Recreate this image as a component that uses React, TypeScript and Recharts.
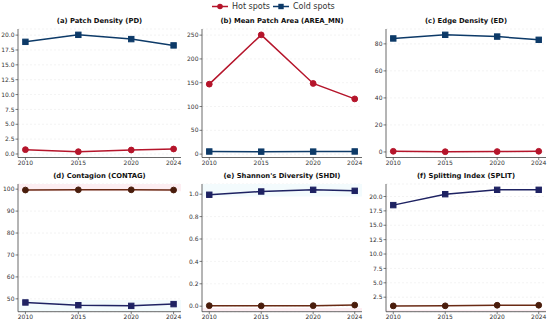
import React from "react";
import { LineChart, Line, XAxis, YAxis, CartesianGrid, ReferenceArea } from "recharts";

const years = [2010, 2015, 2020, 2024];

const pdHot = [0.73, 0.39, 0.67, 0.84];
const pdCold = [18.87, 20.05, 19.33, 18.27];
const areaHot = [147, 250.6, 148.5, 116];
const areaCold = [5.5, 5.2, 5.3, 5.6];
const edHot = [0.5, 0.2, 0.3, 0.5];
const edCold = [84, 86.7, 85.4, 83];
const contagHot = [99.6, 99.7, 99.7, 99.6];
const contagCold = [48.35, 47.1, 46.8, 47.6];
const shdiHot = [0.005, 0.003, 0.005, 0.01];
const shdiCold = [0.995, 1.024, 1.039, 1.03];
const splitHot = [0.99, 1.0, 1.1, 1.1];
const splitCold = [18.5, 20.4, 21.16, 21.16];

const pdTicks = [0, 2.5, 5, 7.5, 10, 12.5, 15, 17.5, 20];
const areaTicks = [0, 50, 100, 150, 200, 250];
const edTicks = [0, 20, 40, 60, 80];
const contagTicks = [50, 60, 70, 80, 90, 100];
const shdiTicks = [0, 0.2, 0.4, 0.6, 0.8, 1.0];
const splitTicks = [2.5, 5, 7.5, 10, 12.5, 15, 17.5, 20];

const titles = [
  "(a) Patch Density (PD)",
  "(b) Mean Patch Area (AREA_MN)",
  "(c) Edge Density (ED)",
  "(d) Contagion (CONTAG)",
  "(e) Shannon's Diversity (SHDI)",
  "(f) Splitting Index (SPLIT)",
];

const legendLabels = ["Hot spots", "Cold spots"];

const FONT = "'DejaVu Sans', sans-serif";

const TOP_HOT = "#b5152b";
const TOP_COLD = "#0d3a68";
const BOT_HOT = "#6a2a14";
const BOT_HOT_DOT = "#4a1d0c";
const BOT_COLD = "#1e2262";

type PanelProps = {
  plotLeft: number;
  plotTop: number;
  plotW: number;
  plotH: number;
  title: string;
  hot: number[];
  cold: number[];
  domain: [number, number];
  ticks: number[];
  fmt: (v: number) => string;
  hotColor: string;
  hotDot: string;
  coldColor: string;
  bands?: { y1: number; y2: number; fill: string }[];
};

const SquareDot = (color: string) => (props: any) => {
  const { cx, cy, index } = props;
  if (cx == null || cy == null) return <g key={"s" + index} />;
  return <rect key={"s" + index} x={cx - 2.7} y={cy - 2.7} width={5.4} height={5.4} fill={color} stroke={color} />;
};

const CircleDot = (color: string) => (props: any) => {
  const { cx, cy, index } = props;
  if (cx == null || cy == null) return <g key={"c" + index} />;
  return <circle key={"c" + index} cx={cx} cy={cy} r={2.9} fill={color} stroke={color} />;
};

function Panel(p: PanelProps) {
  const YW = 40;
  const MT = 6;
  const XH = 14;
  const MR = 6;
  const data = years.map((y, i) => ({ year: y, hot: p.hot[i], cold: p.cold[i] }));
  const tickStyle = { fontSize: 6, fill: "#333", fontFamily: FONT };
  return (
    <>
      <div
        style={{
          position: "absolute",
          left: p.plotLeft,
          width: p.plotW,
          top: p.plotTop - 12,
          textAlign: "center",
          fontFamily: FONT,
          fontWeight: "bold",
          fontSize: 6.8,
          color: "#111",
          lineHeight: "8px",
          whiteSpace: "nowrap",
        }}
      >
        {p.title}
      </div>
      <div style={{ position: "absolute", left: p.plotLeft - YW, top: p.plotTop - MT }}>
        <LineChart
          width={p.plotW + YW + MR}
          height={p.plotH + MT + XH}
          data={data}
          margin={{ top: MT, right: MR, left: 0, bottom: 0 }}
        >
          {(p.bands || []).map((b, i) => (
            <ReferenceArea key={i} y1={b.y1} y2={b.y2} fill={b.fill} fillOpacity={1} stroke="none" ifOverflow="hidden" />
          ))}
          <CartesianGrid vertical={false} stroke="#ebebeb" strokeDasharray="2 2" strokeWidth={0.6} />
          <XAxis
            dataKey="year"
            type="number"
            domain={[2009.3, 2024.7]}
            ticks={years}
            height={XH}
            tick={tickStyle}
            tickSize={2.5}
            tickMargin={1}
            axisLine={{ stroke: "#444", strokeWidth: 0.8 }}
            tickLine={{ stroke: "#444", strokeWidth: 0.7 }}
            allowDataOverflow
            interval={0}
          />
          <YAxis
            type="number"
            domain={p.domain}
            ticks={p.ticks}
            width={YW}
            tick={tickStyle}
            tickSize={2.5}
            tickMargin={1}
            tickFormatter={p.fmt}
            axisLine={{ stroke: "#444", strokeWidth: 0.8 }}
            tickLine={{ stroke: "#444", strokeWidth: 0.7 }}
            allowDataOverflow
            interval={0}
          />
          <Line
            dataKey="hot"
            stroke={p.hotColor}
            strokeWidth={1.5}
            dot={CircleDot(p.hotDot)}
            isAnimationActive={false}
          />
          <Line
            dataKey="cold"
            stroke={p.coldColor}
            strokeWidth={1.5}
            dot={SquareDot(p.coldColor)}
            isAnimationActive={false}
          />
        </LineChart>
      </div>
    </>
  );
}

const f1 = (v: number) => v.toFixed(1);
const f0 = (v: number) => v.toFixed(0);

export default function App() {
  const colL = [18, 202, 386];
  const colW = [163, 160, 160];
  const rowT = [29, 183.7];
  const rowH = [128.5, 127.7];
  return (
    <div style={{ position: "absolute", left: 0, top: 0, width: 550, height: 322, background: "#fff", overflow: "hidden" }}>
      <svg style={{ position: "absolute", left: 0, top: 0 }} width={550} height={14}>
        <line x1={212} x2={228} y1={6.5} y2={6.5} stroke={TOP_HOT} strokeWidth={1.5} />
        <circle cx={220} cy={6.5} r={2.8} fill={TOP_HOT} />
        <text x={232} y={9.3} fontSize={8} fontFamily={FONT} fill="#333">{legendLabels[0]}</text>
        <line x1={273} x2={289} y1={6.5} y2={6.5} stroke={TOP_COLD} strokeWidth={1.5} />
        <rect x={278.3} y={3.8} width={5.4} height={5.4} fill={TOP_COLD} />
        <text x={293} y={9.3} fontSize={8} fontFamily={FONT} fill="#333">{legendLabels[1]}</text>
      </svg>
      <Panel plotLeft={colL[0]} plotTop={rowT[0]} plotW={colW[0]} plotH={rowH[0]} title={titles[0]}
        hot={pdHot} cold={pdCold} domain={[-0.59, 21.03]} ticks={pdTicks} fmt={f1}
        hotColor={TOP_HOT} hotDot={TOP_HOT} coldColor={TOP_COLD} />
      <Panel plotLeft={colL[1]} plotTop={rowT[0]} plotW={colW[1]} plotH={rowH[0]} title={titles[1]}
        hot={areaHot} cold={areaCold} domain={[-7.1, 262.9]} ticks={areaTicks} fmt={f0}
        hotColor={TOP_HOT} hotDot={TOP_HOT} coldColor={TOP_COLD} />
      <Panel plotLeft={colL[2]} plotTop={rowT[0]} plotW={colW[2]} plotH={rowH[0]} title={titles[2]}
        hot={edHot} cold={edCold} domain={[-4.1, 91.0]} ticks={edTicks} fmt={f0}
        hotColor={TOP_HOT} hotDot={TOP_HOT} coldColor={TOP_COLD} />
      <Panel plotLeft={colL[0]} plotTop={rowT[1]} plotW={colW[0]} plotH={rowH[1]} title={titles[3]}
        hot={contagHot} cold={contagCold} domain={[44.15, 102.35]} ticks={contagTicks} fmt={f0}
        hotColor={BOT_HOT} hotDot={BOT_HOT_DOT} coldColor={BOT_COLD}
        bands={[{ y1: 99.1, y2: 102.35, fill: "#fdeef2" }, { y1: 44.15, y2: 49.5, fill: "#f3fbfd" }]} />
      <Panel plotLeft={colL[1]} plotTop={rowT[1]} plotW={colW[1]} plotH={rowH[1]} title={titles[4]}
        hot={shdiHot} cold={shdiCold} domain={[-0.049, 1.091]} ticks={shdiTicks} fmt={f1}
        hotColor={BOT_HOT} hotDot={BOT_HOT_DOT} coldColor={BOT_COLD}
        bands={[{ y1: -0.049, y2: -0.015, fill: "#fdeef2" }, { y1: 0.98, y2: 1.091, fill: "#f3fbfd" }]} />
      <Panel plotLeft={colL[2]} plotTop={rowT[1]} plotW={colW[2]} plotH={rowH[1]} title={titles[5]}
        hot={splitHot} cold={splitCold} domain={[-0.02, 22.17]} ticks={splitTicks} fmt={f1}
        hotColor={BOT_HOT} hotDot={BOT_HOT_DOT} coldColor={BOT_COLD}
        bands={[{ y1: -0.02, y2: 0.3, fill: "#fdeef2" }]} />
    </div>
  );
}
